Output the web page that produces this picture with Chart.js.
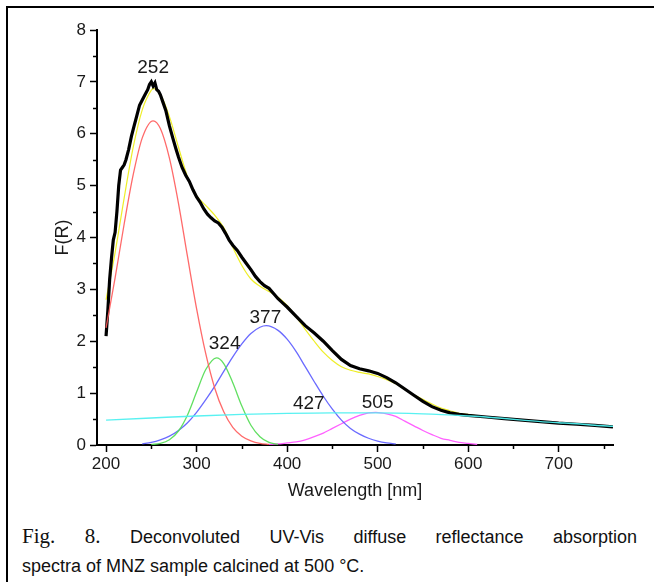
<!DOCTYPE html>
<html>
<head>
<meta charset="utf-8">
<script src="https://cdn.jsdelivr.net/npm/chart.js@4.4.1/dist/chart.umd.min.js"></script>
<style>
  html, body { margin: 0; padding: 0; background: #fff; }
  body { width: 654px; height: 582px; position: relative; overflow: hidden; }
  #frame { position: absolute; left: 6px; top: 6px; width: 660px; height: 600px;
           border-left: 2px solid #000; border-top: 2px solid #000; }
  #wrap { position: absolute; left: 0; top: 0; width: 654px; height: 510px; }
  #caption { position: absolute; left: 22px; top: 522px; width: 615px;
             font-family: "Liberation Sans", Arial, sans-serif; font-size: 18px;
             line-height: 29px; color: #111; }
  #caption .l1 { text-align: justify; text-align-last: justify; }
  #caption .l2 { text-align: left; }
  #caption .fig { font-family: "Liberation Serif", "Times New Roman", serif; font-size: 21px; }
</style>
</head>
<body>
<div id="frame"></div>
<div id="wrap"><canvas id="c" width="654" height="510"></canvas></div>
<div id="caption"><div class="l1"><span class="fig">Fig. 8.</span> Deconvoluted UV-Vis diffuse reflectance absorption</div><div class="l2">spectra of MNZ sample calcined at 500 °C.</div></div>
<script>
// ---- Data ----
const xTicks = [200, 300, 400, 500, 600, 700];
const yTicks = [0, 1, 2, 3, 4, 5, 6, 7, 8];

// Experimental spectrum (black)
const expWl = [200,202,204,206,208,210,212,214,216,218,220,222,225,228,231,234,237,240,243,246,248,250,252,254,256,258,260,263,266,270,274,277,280,284,288,292,296,300,304,308,312,316,320,324,328,332,336,340,345,350,355,360,365,370,375,380,385,390,395,400,410,420,430,440,450,460,470,480,490,500,510,520,530,540,550,560,570,580,590,600,620,640,660,680,700,720,740,760];
const expF  = [2.10,2.60,3.20,3.60,3.95,4.10,4.50,5.00,5.30,5.35,5.40,5.50,5.70,5.95,6.15,6.35,6.55,6.65,6.75,6.85,6.95,7.00,6.92,6.98,6.85,6.82,6.75,6.60,6.45,6.15,5.90,5.72,5.55,5.35,5.20,5.08,4.92,4.78,4.68,4.55,4.45,4.38,4.32,4.28,4.20,4.08,3.95,3.85,3.75,3.62,3.50,3.38,3.25,3.15,3.07,3.02,2.92,2.82,2.74,2.66,2.48,2.30,2.16,2.00,1.82,1.65,1.53,1.47,1.43,1.38,1.30,1.20,1.08,0.96,0.84,0.74,0.67,0.62,0.59,0.57,0.54,0.51,0.48,0.45,0.42,0.40,0.38,0.35];

// Cumulative fit (yellow)
const fitWl = [200,210,220,230,240,250,252,260,270,280,290,300,310,320,330,340,350,360,370,380,390,400,410,420,430,440,450,460,470,480,490,500,510,520,530,540,550,560,570,580,590,600,610,620,640,660,680,700,720,740,760];
const fitF  = [2.80,3.71,4.76,5.74,6.46,6.84,6.87,6.76,6.33,5.74,5.17,4.81,4.62,4.43,4.19,3.81,3.46,3.20,3.06,2.96,2.85,2.69,2.47,2.23,2.00,1.79,1.63,1.51,1.44,1.40,1.37,1.32,1.26,1.18,1.07,0.97,0.88,0.79,0.71,0.66,0.61,0.59,0.56,0.54,0.51,0.48,0.45,0.43,0.41,0.38,0.36];

// Peak 252 nm (red)
const p252Wl = [200,210,220,230,240,252,260,270,280,290,300,310,320,330,340,350,360,370,380];
const p252F  = [2.26,3.22,4.26,5.21,5.92,6.25,6.10,5.53,4.66,3.63,2.63,1.77,1.10,0.64,0.34,0.17,0.08,0.03,0.01];

// Peak 324 nm (green)
const p324Wl = [250,260,270,280,290,300,310,322,330,340,350,360,370,380,390];
const p324F  = [0.01,0.03,0.10,0.27,0.58,1.02,1.45,1.68,1.57,1.20,0.75,0.38,0.16,0.05,0.01];

// Peak 377 nm (blue)
const p377Wl = [240,250,260,270,280,290,300,310,320,330,340,350,360,370,377,390,400,410,420,430,440,450,460,470,480,490,500,510,520];
const p377F  = [0.02,0.05,0.10,0.17,0.28,0.43,0.63,0.87,1.13,1.42,1.70,1.95,2.15,2.27,2.30,2.21,2.04,1.80,1.51,1.22,0.94,0.69,0.48,0.32,0.21,0.13,0.075,0.04,0.02];

// Peak 505 nm (magenta)
const p505Wl = [380,390,400,410,420,430,440,450,460,470,480,490,498,510,520,530,540,550,560,570,580,590,600,610];
const p505F  = [0.01,0.02,0.04,0.06,0.10,0.16,0.23,0.32,0.41,0.50,0.57,0.62,0.63,0.60,0.55,0.46,0.37,0.28,0.20,0.13,0.09,0.05,0.03,0.01];

// Broad background band, 427 nm (cyan)
const p427Wl = [200,250,300,350,400,450,500,550,600,620,640,660,680,700,720,740,760];
const p427F  = [0.48,0.52,0.56,0.59,0.61,0.62,0.62,0.60,0.56,0.54,0.51,0.48,0.45,0.43,0.41,0.38,0.36];

// Peak labels
const peakLabels = ["252", "324", "377", "427", "505"];
const peakLabelWl = [252, 331, 376, 424, 500];
const peakLabelF  = [7.27, 1.95, 2.45, 0.79, 0.81];

const xTitle = "Wavelength [nm]";
const yTitle = "F(R)";

// ---- Build ----
const pts = (xs, ys) => xs.map((x, i) => ({ x: x, y: ys[i] }));
const FONT = "'Liberation Sans', Arial, sans-serif";

const line = (label, xs, ys, color, width) => ({
  label, data: pts(xs, ys), borderColor: color, borderWidth: width,
  pointRadius: 0, fill: false, tension: 0.35, cubicInterpolationMode: 'monotone'
});

const minorTicks = {
  id: 'minorTicks',
  afterDraw(chart) {
    const ctx = chart.ctx, xs = chart.scales.x, ys = chart.scales.y;
    ctx.save();
    ctx.strokeStyle = '#000';
    ctx.lineWidth = 1.5;
    const bottom = ys.getPixelForValue(0);
    const left = xs.left;
    for (let i = 0; i < xTicks.length; i++) {
      const v = xTicks[i] + 50;
      if (v > xs.max) break;
      const px = Math.round(xs.getPixelForValue(v)) + 0.5;
      ctx.beginPath(); ctx.moveTo(px, bottom); ctx.lineTo(px, bottom + 4); ctx.stroke();
    }
    for (let i = 0; i < yTicks.length - 1; i++) {
      const py = Math.round(ys.getPixelForValue(yTicks[i] + 0.5)) + 0.5;
      ctx.beginPath(); ctx.moveTo(left, py); ctx.lineTo(left - 4, py); ctx.stroke();
    }
    // peak labels
    ctx.fillStyle = '#1a1a1a';
    ctx.font = "19px " + FONT;
    ctx.textAlign = 'center';
    ctx.textBaseline = 'middle';
    peakLabels.forEach((t, i) => {
      ctx.fillText(t, xs.getPixelForValue(peakLabelWl[i]), ys.getPixelForValue(peakLabelF[i]));
    });
    ctx.restore();
  }
};

new Chart(document.getElementById('c'), {
  type: 'line',
  data: {
    datasets: [
      line('427', p427Wl, p427F, 'rgba(80,240,240,0.95)', 1.4),
      line('252', p252Wl, p252F, 'rgba(255,90,90,0.9)', 1.3),
      line('324', p324Wl, p324F, 'rgba(80,220,80,0.9)', 1.3),
      line('377', p377Wl, p377F, 'rgba(90,90,255,0.9)', 1.3),
      line('505', p505Wl, p505F, 'rgba(255,80,255,0.9)', 1.3),
      Object.assign(line('exp', expWl, expF, '#000', 3.2), { tension: 0, cubicInterpolationMode: 'default' }),
      line('fit', fitWl, fitF, 'rgba(235,235,0,0.85)', 1.2)
    ]
  },
  options: {
    responsive: false,
    animation: false,
    events: [],
    layout: { padding: { left: 40, top: 30, right: 41, bottom: 0 } },
    plugins: { legend: { display: false }, tooltip: { enabled: false } },
    scales: {
      x: {
        type: 'linear', min: 190, max: 760,
        afterBuildTicks: s => { s.ticks = xTicks.map(v => ({ value: v })); },
        afterFit: s => { s.height = 65; },
        border: { color: '#000', width: 2 },
        grid: { drawOnChartArea: false, drawTicks: true, tickLength: 7, tickWidth: 1.5, tickColor: '#000' },
        ticks: { color: '#1a1a1a', font: { family: FONT, size: 17 }, padding: 2, maxRotation: 0 },
        title: { display: true, text: xTitle, color: '#1a1a1a', font: { family: FONT, size: 18 }, padding: { top: 0, bottom: 8 } }
      },
      y: {
        type: 'linear', min: 0, max: 8,
        afterBuildTicks: s => { s.ticks = yTicks.map(v => ({ value: v })); },
        afterFit: s => { s.width = 57; },
        border: { color: '#000', width: 2 },
        grid: { drawOnChartArea: false, drawTicks: true, tickLength: 7, tickWidth: 1.5, tickColor: '#000' },
        ticks: { color: '#1a1a1a', font: { family: FONT, size: 17 }, padding: 4 },
        title: { display: true, text: yTitle, color: '#1a1a1a', font: { family: FONT, size: 18 }, padding: { top: 12, bottom: 0 } }
      }
    }
  },
  plugins: [minorTicks]
});
</script>
</body>
</html>
